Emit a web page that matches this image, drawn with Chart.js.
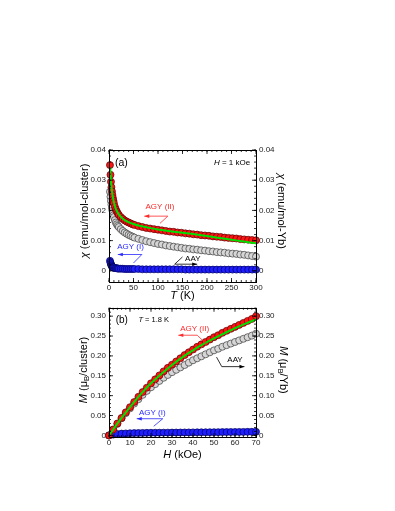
<!DOCTYPE html>
<html>
<head>
<meta charset="utf-8">
<script src="https://cdn.jsdelivr.net/npm/chart.js@4.4.1/dist/chart.umd.min.js"></script>
<style>
  body { margin: 0; background: #fff; }
  #wrap { position: relative; width: 395px; height: 511px; background: #fff; }
  canvas { position: absolute; left: 0; }
  #chartA { top: 140px; }
  #chartB { top: 300px; }
</style>
</head>
<body>
<div id="wrap">
  <canvas id="chartA" width="395" height="165"></canvas>
  <canvas id="chartB" width="395" height="170"></canvas>
</div>
<script>
// ---- panel (a): susceptibility vs temperature, H = 1 kOe
const tempK = [2,3,4,5,6,7,8,9,10,12,14,16,18,20,24,28,32,36,40,44,48,52,
  60,68,76,84,92,100,108,116,124,132,140,148,156,164,172,180,188,196,204,212,
  220,228,236,244,252,260,268,276,284,292,300]
const chiAGY2 = [.0350,.0318,.0295,.0277,.0263,.0251,.0241,.0232,.0224,.0212,.0203,.0196,.0190,.0185,
  .0178,.0172,.0167,.0163,.0160,.0157,.0154,.0152,
  .0148,.0145,.0142,.0140,.0138,.0136,.0134,.0132,.0130,.0129,.0127,.0126,.0124,.0123,.0121,.0120,
  .0118,.0117,.0116,.0114,.0113,.0112,.0110,.0109,.0108,.0107,.0105,.0104,.0103,.0102,.0101]
const chiAAY = [.0262,.0245,.0231,.0219,.0208,.0199,.0191,.0184,.0178,.0168,.0160,.0154,.0149,.0145,
  .0138,.0132,.0127,.0123,.0119,.0116,.0113,.0110,
  .0106,.0102,.0098,.0095,.0092,.0089,.0087,.0084,.0082,.0080,.0078,.0076,.0074,.0073,.0071,.0070,
  .0068,.0067,.0065,.0064,.0062,.0061,.0060,.0058,.0057,.0056,.0054,.0053,.0051,.0049,.0047]
const chiAGY1 = [.0033,.0027,.0022,.0018,.0015,.0013,.0012,.0011,.0010,.0009,.0009,.0008,.0008,.0007,
  .0007,.0007,.0006,.0006,.0006,.0006,.0006,.0006,
  .0006,.0005,.0005,.0005,.0005,.0005,.0005,.0005,.0005,.0005,.0005,.0005,.0004,.0004,.0004,.0004,
  .0004,.0004,.0004,.0004,.0004,.0004,.0004,.0004,.0004,.0004,.0004,.0004,.0004,.0004,.0004]
const fitT = [2.5,3,4,5,6,8,10,14,20,30,40,50,60,80,100,125,150,175,200,225,250,275,300]
const fitChi = [.0342,.0322,.0297,.0279,.0265,.0243,.0227,.0205,.0187,.0170,.0161,.0155,.0150,
  .0143,.0137,.0131,.0126,.0121,.0115,.0109,.0103,.0097,.0091]
const tTicks = [0,50,100,150,200,250,300]
const chiTicks = [0,0.01,0.02,0.03,0.04]

// ---- panel (b): magnetization vs field, T = 1.8 K
const fieldKOe = [0,2,4,6,8,10,12,14,16,18,20,22,24,26,28,30,32,34,36,38,40,42,44,46,48,50,
  52,54,56,58,60,62,64,66,68,70]
const mAGY2 = [0,.015,.030,.044,.058,.071,.084,.097,.109,.120,.131,.141,.151,.161,.170,.178,.186,.194,
  .202,.209,.216,.223,.229,.235,.241,.247,.252,.258,.263,.268,.273,.278,.283,.288,.293,.300]
const mAAY = [0,.014,.029,.043,.056,.068,.080,.091,.102,.112,.121,.129,.137,.145,.152,.159,.165,.171,
  .177,.183,.189,.194,.199,.204,.209,.214,.218,.223,.227,.231,.235,.239,.243,.247,.251,.256]
const mAGY1 = [0,.002,.0035,.0045,.005,.0055,.0058,.006,.0062,.0064,.0066,.0067,.0068,.0069,.007,
  .0071,.0072,.0073,.0074,.0075,.0076,.0077,.0078,.0079,.008,.0081,.0082,.0083,.0084,.0085,.0086,
  .0087,.0088,.0089,.009,.0091]
const fitH = [0,5,10,15,20,25,30,35,40,45,50,55,60,65,70]
const fitM = [0,.037,.071,.103,.131,.155,.177,.197,.214,.230,.244,.257,.270,.281,.292]
const hTicks = [0,10,20,30,40,50,60,70]
const mTicks = [0,0.05,0.10,0.15,0.20,0.25,0.30]

const FONT = '"Liberation Sans", Arial, sans-serif'
const RED = "#ff1414", GRAY = "#d6d6d6", BLUE = "#1e1eff"

function pts(xs, ys) {
  return xs.map((x, i) => ({ x: x, y: ys[i] }))
}

function markers(label, xs, ys, fill, edge) {
  return {
    label: label, data: pts(xs, ys), showLine: false, clip: false,
    pointRadius: 3.5, pointBackgroundColor: fill, pointBorderColor: edge, pointBorderWidth: 0.7
  }
}

function fitLine(xs, ys) {
  return {
    label: "fit", data: pts(xs, ys), showLine: true, pointRadius: 0, clip: false,
    borderColor: "#00e000", borderWidth: 2, cubicInterpolationMode: "monotone"
  }
}

// text made of pieces: [text, style] with style "" | "i" (italic) | "s" (subscript)
function drawRich(ctx, parts, x, y, size, align, rot, color) {
  const fontOf = st => (st === "i" ? "italic " : "") + (st === "s" ? size * 0.7 : size) + "px " + FONT
  let w = 0
  parts.forEach(p => { ctx.font = fontOf(p[1]); w += ctx.measureText(p[0]).width })
  ctx.save()
  ctx.translate(x, y)
  ctx.rotate(rot || 0)
  ctx.fillStyle = color || "#000"
  ctx.textBaseline = "middle"
  ctx.textAlign = "left"
  let cx = align === "center" ? -w / 2 : align === "right" ? -w : 0
  parts.forEach(p => {
    ctx.font = fontOf(p[1])
    ctx.fillText(p[0], cx, p[1] === "s" ? size * 0.28 : 0)
    cx += ctx.measureText(p[0]).width
  })
  ctx.restore()
}

// frame with inward ticks, axis titles and the notes inside the plot
const decor = {
  id: "decor",
  afterDraw(chart, args, opt) {
    const ctx = chart.ctx, a = chart.chartArea
    const sx = chart.scales.x, sy = chart.scales.y
    ctx.save()
    ctx.strokeStyle = "#000"
    ctx.lineWidth = 1
    ctx.strokeRect(Math.round(a.left) + 0.5, Math.round(a.top) + 0.5,
      Math.round(a.right - a.left), Math.round(a.bottom - a.top))
    ctx.lineWidth = 0.8
    const tick = (vals, len, isX) => {
      vals.forEach(v => {
        ctx.beginPath()
        if (isX) {
          const p = sx.getPixelForValue(v)
          ctx.moveTo(p, a.bottom); ctx.lineTo(p, a.bottom - len)
          ctx.moveTo(p, a.top); ctx.lineTo(p, a.top + len)
        } else {
          const p = sy.getPixelForValue(v)
          ctx.moveTo(a.left, p); ctx.lineTo(a.left + len, p)
          ctx.moveTo(a.right, p); ctx.lineTo(a.right - len, p)
        }
        ctx.stroke()
      })
    }
    const minor = (step, lo, hi) => {
      const out = []
      for (let v = 0; v <= hi + 1e-9; v += step) if (v >= lo) out.push(v)
      return out
    }
    tick(minor(opt.xMinor, sx.min, sx.max), 2, true)
    tick(minor(opt.yMinor, sy.min, sy.max), 2, false)
    tick(opt.xTicks, 4, true)
    tick(opt.yTicks, 4, false)

    const t = opt.titles
    drawRich(ctx, t.x, (a.left + a.right) / 2, t.xY, 11, "center", 0)
    drawRich(ctx, t.left, t.leftX, t.sideY, 11, "center", -Math.PI / 2)
    drawRich(ctx, t.right, t.rightX, t.sideY, 11, "center", Math.PI / 2)

    opt.notes.forEach(n => {
      drawRich(ctx, n.text, sx.getPixelForValue(n.at[0]), sy.getPixelForValue(n.at[1]),
        n.size, n.align, 0, n.color)
      if (!n.arrow) return
      const P = q => [sx.getPixelForValue(q[0]), sy.getPixelForValue(q[1])]
      const [x1, y1] = P(n.arrow[0]), [x2, y2] = P(n.arrow[1]), [x3, y3] = P(n.leader)
      ctx.strokeStyle = n.color
      ctx.fillStyle = n.color
      ctx.lineWidth = 0.8
      ctx.beginPath()
      ctx.moveTo(x1, y1); ctx.lineTo(x2, y2)
      ctx.moveTo(x1, y1); ctx.lineTo(x3, y3)
      ctx.stroke()
      const dir = Math.sign(x2 - x1)
      ctx.beginPath()
      ctx.moveTo(x2, y2)
      ctx.lineTo(x2 - dir * 5, y2 - 1.8)
      ctx.lineTo(x2 - dir * 5, y2 + 1.8)
      ctx.closePath()
      ctx.fill()
    })
    ctx.restore()
  }
}

function axes(xMin, xMax, xT, yMin, yMax, yT, xH) {
  const lab = v => (v === 0 ? "0" : v.toFixed(2))
  const tickFont = { family: FONT, size: 8 }
  const yAxis = (pos, w) => ({
    type: "linear", position: pos, min: yMin, max: yMax,
    afterBuildTicks: s => { s.ticks = yT.map(v => ({ value: v })) },
    afterFit: s => { s.width = w },
    grid: { display: false, drawTicks: false }, border: { display: false },
    ticks: { font: tickFont, color: "#222", padding: 3, callback: lab }
  })
  return {
    x: {
      type: "linear", position: "bottom", min: xMin, max: xMax,
      afterBuildTicks: s => { s.ticks = xT.map(v => ({ value: v })) },
      afterFit: s => { s.height = xH },
      grid: { display: false, drawTicks: false }, border: { display: false },
      ticks: { font: tickFont, color: "#222", padding: 1, maxRotation: 0, autoSkip: false }
    },
    y: yAxis("left", 109),
    y2: yAxis("right", 139)
  }
}

Chart.defaults.animation = false

new Chart(document.getElementById("chartA"), {
  type: "scatter",
  data: {
    datasets: [
      fitLine(fitT, fitChi),
      markers("AGY (II)", tempK, chiAGY2, RED, "#5a0000"),
      markers("AAY", tempK, chiAAY, GRAY, "#3c3c3c"),
      markers("AGY (I)", tempK, chiAGY1, BLUE, "#00005a")
    ]
  },
  options: {
    responsive: false,
    layout: { padding: { top: 10, left: 0, right: 0, bottom: 0 } },
    scales: axes(0, 300, tTicks, -0.0037, 0.04, chiTicks, 23),
    plugins: {
      legend: { display: false }, tooltip: { enabled: false },
      decor: {
        xMinor: 10, yMinor: 0.002, xTicks: tTicks, yTicks: chiTicks,
        titles: {
          x: [["T", "i"], [" (K)", ""]], xY: 156,
          left: [["\u03c7", "i"], [" (emu/mol-cluster)", ""]], leftX: 85,
          right: [["\u03c7", "i"], [" (emu/mol-Yb)", ""]], rightX: 281, sideY: 71
        },
        notes: [
          { text: [["(a)", ""]], at: [12, 0.0357], size: 10.5, align: "left", color: "#000" },
          { text: [["H", "i"], [" = 1 kOe", ""]], at: [288, 0.0357], size: 8, align: "right", color: "#000" },
          { text: [["AGY (II)", ""]], at: [104, 0.0211], size: 8, align: "center", color: "#ff2a2a",
            arrow: [[120, 0.0181], [72, 0.0181]], leader: [104, 0.0157] },
          { text: [["AGY (I)", ""]], at: [44, 0.0078], size: 8, align: "center", color: "#2a2aff",
            arrow: [[67, 0.0054], [18, 0.0054]], leader: [50, 0.0026] },
          { text: [["AAY", ""]], at: [171, 0.0041], size: 8, align: "center", color: "#000",
            arrow: [[134, 0.0022], [180, 0.0022]], leader: [150, 0.0046] }
        ]
      }
    }
  },
  plugins: [decor]
})

new Chart(document.getElementById("chartB"), {
  type: "scatter",
  data: {
    datasets: [
      fitLine(fitH, fitM),
      markers("AGY (II)", fieldKOe, mAGY2, RED, "#5a0000"),
      markers("AAY", fieldKOe, mAAY, GRAY, "#3c3c3c"),
      markers("AGY (I)", fieldKOe, mAGY1, BLUE, "#00005a")
    ]
  },
  options: {
    responsive: false,
    layout: { padding: { top: 7, left: 0, right: 0, bottom: 0 } },
    scales: axes(0, 70, hTicks, -0.004, 0.321, mTicks, 33),
    plugins: {
      legend: { display: false }, tooltip: { enabled: false },
      decor: {
        xMinor: 2, yMinor: 0.01, xTicks: hTicks, yTicks: mTicks,
        titles: {
          x: [["H", "i"], [" (kOe)", ""]], xY: 155,
          left: [["M", "i"], [" (\u03bc", ""], ["B", "s"], ["/cluster)", ""]], leftX: 84,
          right: [["M", "i"], [" (\u03bc", ""], ["B", "s"], ["/Yb)", ""]], rightX: 283, sideY: 70
        },
        notes: [
          { text: [["(b)", ""]], at: [3.2, 0.29], size: 10, align: "left", color: "#000" },
          { text: [["T", "i"], [" = 1.8 K", ""]], at: [14, 0.29], size: 7.5, align: "left", color: "#000" },
          { text: [["AGY (II)", ""]], at: [40.8, 0.268], size: 8, align: "center", color: "#ff2a2a",
            arrow: [[42, 0.252], [33, 0.252]], leader: [46.6, 0.229] },
          { text: [["AAY", ""]], at: [60, 0.19], size: 8, align: "center", color: "#000",
            arrow: [[53.7, 0.173], [64.5, 0.173]], leader: [51.2, 0.197] },
          { text: [["AGY (I)", ""]], at: [20.6, 0.057], size: 8, align: "center", color: "#2a2aff",
            arrow: [[25.6, 0.042], [13.2, 0.042]], leader: [21.3, 0.023] }
        ]
      }
    }
  },
  plugins: [decor]
})
</script>
</body>
</html>
